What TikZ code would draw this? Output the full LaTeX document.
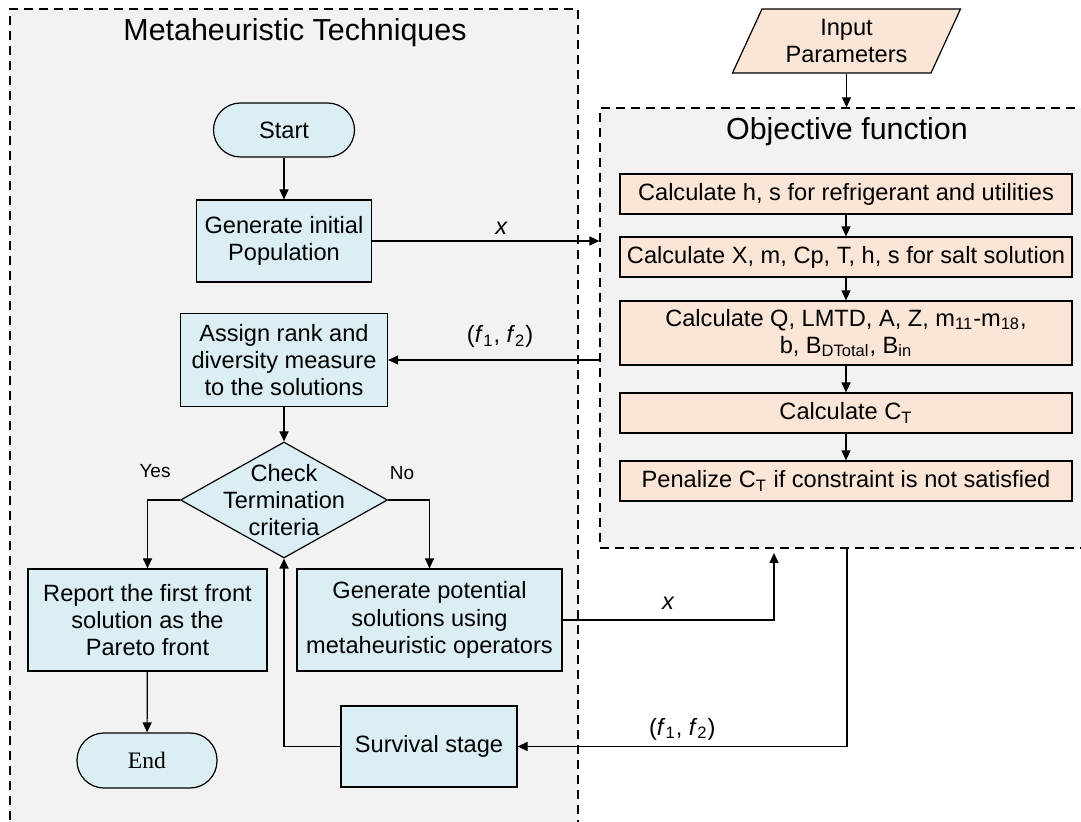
\documentclass[tikz,border=0pt]{standalone}
\usepackage{fontspec}
\setmainfont{Liberation Sans}
\newfontfamily\endfont{Liberation Serif}
\usetikzlibrary{shapes.geometric,arrows.meta,positioning}
\definecolor{panelgray}{HTML}{F2F2F2}
\definecolor{stepblue}{HTML}{DAEEF3}
\definecolor{steppeach}{HTML}{FBE5D6}

\begin{document}
\begin{tikzpicture}[x=0.5pt,y=-0.5pt,
        >={Triangle[length=5pt,width=4.5pt]},
        font=\fontsize{11.8}{13.6}\selectfont,inner sep=0pt,line width=0.6pt,
        panel/.style={draw,dash pattern=on 4.5pt off 3pt,fill=panelgray},
        stepbox/.style={draw,fill=stepblue,align=center},
        calcbox/.style={draw,fill=steppeach,align=center,minimum width=226pt,minimum height=20pt},
        term/.style={stepbox,rounded corners=13.5pt},
        lbl/.style={font=\fontsize{9.5}{11}\selectfont},
        paneltitle/.style={font=\fontsize{15.2}{18}\selectfont}]

    \useasboundingbox (0,0) rectangle (1081,822);

    % the two panels
    \node[panel,minimum width=284pt,minimum height=411pt] (meta) at (294,420) {};
    \node[panel,minimum width=260pt,minimum height=220pt] (obj) at (860,328) {};
    \node[paneltitle] (metatitle) at (295,33) {Metaheuristic Techniques};
    \node[paneltitle] (objtitle) at (847,132) {Objective function};

    % left panel
    \node[term,minimum width=70.5pt,minimum height=27pt] (start) at (284,130) {Start};
    \node[stepbox,minimum width=87.5pt,minimum height=41pt] (gen) at (284,241) {Generate initial\\Population};
    \node[stepbox,minimum width=103.5pt,minimum height=46.5pt] (assign) at (284,360)
        {Assign rank and\\diversity measure\\to the solutions};
    \node[draw,diamond,fill=stepblue,minimum width=103.5pt,minimum height=58pt] (chk) at (284,500) {};
    \node[align=center] (chktext) at (chk) {Check\\Termination\\criteria};
    \node[stepbox,minimum width=119.5pt,minimum height=51pt] (report) at (147.5,620)
        {Report the first front\\solution as the\\Pareto front};
    \node[stepbox,minimum width=132.5pt,minimum height=51pt] (genpot) at (429.5,620)
        {Generate potential\\solutions using\\metaheuristic operators};
    \node[term,minimum width=70pt,minimum height=27.5pt,font=\endfont\fontsize{11.8}{13.6}\selectfont] (end) at (147,760.5) {End};
    \node[stepbox,minimum width=88pt,minimum height=40.5pt] (surv) at (429,746.5) {Survival stage};
    \node[lbl] (yes) at (155,471) {Yes};
    \node[lbl] (no) at (402,473) {No};

    % right panel
    \node[draw,trapezium,trapezium left angle=64,trapezium right angle=116,trapezium stretches=true,
        fill=steppeach,align=center,minimum width=114.5pt,minimum height=32pt] (inp) at (846.5,41)
        {Input\\Parameters};
    \node[calcbox] (c1) at (846,194) {Calculate h, s for refrigerant and utilities};
    \node[calcbox] (c2) at (846,257) {Calculate X, m, Cp, T, h, s for salt solution};
    \node[calcbox,minimum height=32pt] (c3) at (846,333)
        {Calculate Q, LMTD, A, Z, m\textsubscript{11}-m\textsubscript{18},\\b, B\textsubscript{DTotal}, B\textsubscript{in}};
    \node[calcbox] (c4) at (846,413) {Calculate C\textsubscript{T}};
    \node[calcbox] (c5) at (846,481) {Penalize C\textsubscript{T} if constraint is not satisfied};

    \coordinate (objin) at (774,553);
    \coordinate (objout) at (847,548);

    % connectors
    \draw[->] (start) -- (gen);
    \draw[->] (gen.east) -- (gen.east -| obj.west) node[pos=.57,above=3pt] {\textit{x}};
    \draw[->] (obj.west |- assign.east) -- (assign.east)
        node[pos=.47,above=6pt] {(\textit{f}\textsubscript{1}, \textit{f}\textsubscript{2})};
    \draw[->] (assign) -- (chk.north);
    \draw[->] (chk.west) -| (report.north);
    \draw[->] (chk.east) -| (genpot.north);
    \draw[->] (report) -- (end);
    \draw[->] (surv.west) -| (chk.south);
    \draw[->] (genpot.east) -| (objin) node[pos=.25,above=5pt] {\textit{x}};
    \draw[->] (objout) |- (surv.east)
        node[pos=.75,above=3pt] {(\textit{f}\textsubscript{1}, \textit{f}\textsubscript{2})};
    \draw[->] (inp.south) -- (inp.south |- obj.north);
    \foreach \a/\b in {c1/c2,c2/c3,c3/c4,c4/c5}
        \draw[->] (\a) -- (\b);
\end{tikzpicture}
\end{document}
